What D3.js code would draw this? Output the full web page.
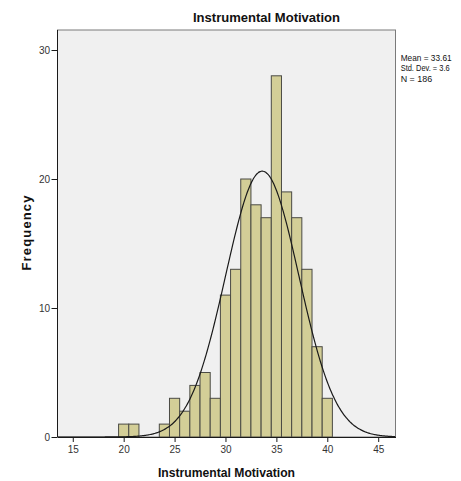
<!DOCTYPE html>
<html><head><meta charset="utf-8">
<script src="https://cdn.jsdelivr.net/npm/d3@7"></script>
<style>body{margin:0;background:#fff}svg{display:block}</style>
</head><body>
<script>
const binCenters = [20,21,22,23,24,25,26,27,28,29,30,31,32,33,34,35,36,37,38,39,40];
const frequencies = [1,1,0,0,1,3,2,4,5,3,11,13,20,18,17,28,19,17,13,7,3];
const xTicks = [15,20,25,30,35,40,45];
const yTicks = [0,10,20,30];
const statsLabels = ["Mean = 33.61","Std. Dev. = 3.6","N = 186"];
const mean = 33.61, sd = 3.6, n = 186, binWidth = 1;

const W = 461, H = 481;
const L = 57.5, R = 395.5, T = 30, B = 437;
const font = "'Liberation Sans',Arial,sans-serif";

const svg = d3.select("body").append("svg").attr("width", W).attr("height", H);
const x = d3.scaleLinear().domain([13.5, 46.7]).range([L, R]);
const y = d3.scaleLinear().domain([0, 30]).range([B, 50]);

svg.append("rect").attr("x", L).attr("y", T).attr("width", R - L).attr("height", B - T)
  .attr("fill", "#f0f0f0").attr("stroke", "#7a7a7a").attr("stroke-width", 1);

svg.append("clipPath").attr("id","pc").append("rect")
  .attr("x", L).attr("y", T).attr("width", R - L).attr("height", B - T);

svg.append("g").selectAll("rect").data(binCenters.map((c,i)=>({c, f: frequencies[i]})).filter(d=>d.f>0))
  .join("rect")
  .attr("x", d => x(d.c - binWidth/2))
  .attr("width", d => x(d.c + binWidth/2) - x(d.c - binWidth/2))
  .attr("y", d => y(d.f))
  .attr("height", d => y(0) - y(d.f))
  .attr("fill", "#d3ce97").attr("stroke", "#4a4a44").attr("stroke-width", 1);

const pts = d3.range(13.5, 46.71, 0.1).map(v => [v, n*binWidth/(sd*Math.sqrt(2*Math.PI))*Math.exp(-0.5*((v-mean)/sd)**2)]);
svg.append("path").datum(pts).attr("clip-path","url(#pc)")
  .attr("d", d3.line().x(d=>x(d[0])).y(d=>y(d[1])).curve(d3.curveBasis))
  .attr("fill","none").attr("stroke","#1a1a1a").attr("stroke-width",1.2);

const xAxis = svg.append("g").attr("transform", `translate(0,${B})`)
  .call(d3.axisBottom(x).tickValues(xTicks).tickSize(5).tickSizeOuter(0));
xAxis.select(".domain").attr("stroke","#1a1a1a");
xAxis.selectAll(".tick line").attr("stroke","#1a1a1a");
xAxis.selectAll("text").attr("font-family", font).attr("font-size", 10).attr("fill","#333")
  .attr("y", 16).attr("dy", 0);

const yAxis = svg.append("g").attr("transform", `translate(${L},0)`)
  .call(d3.axisLeft(y).tickValues(yTicks).tickSize(6).tickSizeOuter(0));
yAxis.select(".domain").attr("stroke","#1a1a1a").attr("d", `M0,${T}V${B}`);
yAxis.selectAll(".tick line").attr("stroke","#1a1a1a");
yAxis.selectAll("text").attr("font-family", font).attr("font-size", 10).attr("fill","#333").attr("x",-7.5);

svg.append("text").attr("x", 266.5).attr("y", 21.7).attr("text-anchor","middle")
  .attr("font-family", font).attr("font-weight","bold").attr("font-size", 13).attr("fill","#111")
  .attr("textLength", 147).attr("lengthAdjust","spacingAndGlyphs")
  .text("Instrumental Motivation");

svg.append("text").attr("x", 226.5).attr("y", 477.3).attr("text-anchor","middle")
  .attr("font-family", font).attr("font-weight","bold").attr("font-size", 12.5).attr("fill","#111")
  .attr("textLength", 137).attr("lengthAdjust","spacingAndGlyphs")
  .text("Instrumental Motivation");

svg.append("text").attr("transform","translate(31,233) rotate(-90)").attr("text-anchor","middle")
  .attr("font-family", font).attr("font-weight","bold").attr("font-size", 13)
  .attr("textLength", 75).attr("lengthAdjust","spacing").attr("fill","#111")
  .text("Frequency");

const legendW = [51, 49, 31.5];
const legendY = [61, 71.4, 81.8];
svg.append("g").selectAll("g").data(statsLabels).join("g")
  .each(function(d, i) {
    const g = d3.select(this);
    const t = g.append("text").attr("x", 0).attr("y", 0)
      .attr("font-family", font).attr("font-size", 9).attr("fill","#111").text(d);
    const w = t.node().getComputedTextLength();
    g.attr("transform", `translate(400.7,${legendY[i]}) scale(${legendW[i] / w},1)`);
  });
</script>
</body></html>
